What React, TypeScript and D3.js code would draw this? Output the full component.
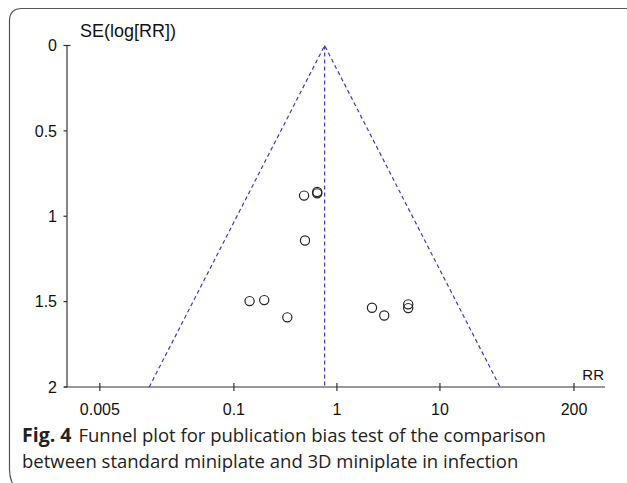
import React from "react";
import * as d3 from "d3";

const studyRR = [0.48, 0.644, 0.644, 0.49, 0.142, 0.197, 0.33, 2.19, 2.88, 4.92, 4.92];
const studySE = [0.879, 0.858, 0.866, 1.142, 1.497, 1.491, 1.592, 1.536, 1.581, 1.516, 1.538];
const pooledRR = 0.76;
const xTicks = [0.005, 0.1, 1, 10, 200];
const xTickLabels = ["0.005", "0.1", "1", "10", "200"];
const yTicks = [0, 0.5, 1, 1.5, 2];
const yTickLabels = ["0", "0.5", "1", "1.5", "2"];
const xDomain = [0.0024, 400];
const yDomain = [0, 2];

export default function App() {
  const W = 627, H = 483;
  const x = d3.scaleLog().domain(xDomain).range([67, 605]);
  const y = d3.scaleLinear().domain(yDomain).range([45.5, 387]);
  const z = 1.96;
  const maxSE = yDomain[1];
  const blue = "#3a3acb";
  const axisCol = "#333";
  const left = pooledRR * Math.exp(-z * maxSE);
  const right = pooledRR * Math.exp(z * maxSE);
  const funnel = d3.line<[number, number]>().x(d => x(d[0])).y(d => y(d[1]));
  const font = "'Liberation Sans', Arial, sans-serif";
  const capFont = "'Open Sans', 'Noto Sans', sans-serif";
  return (
    <svg width={W} height={H} style={{ position: "absolute", left: 0, top: 0, background: "#fff" }}>
      <path d="M 627 8.5 H 22 Q 9.5 8.5 9.5 21 V 470 Q 9.5 478 13.5 486" fill="none" stroke="#555" strokeWidth={1.2} />
      {/* axes */}
      <line x1={x(xDomain[0])} x2={x(xDomain[0])} y1={y(0)} y2={y(2)} stroke={axisCol} strokeWidth={1.2} />
      <line x1={x(xDomain[0]) - 3} x2={x(xDomain[1])} y1={y(2)} y2={y(2)} stroke={axisCol} strokeWidth={1.2} />
      {yTicks.map((t, i) => (
        <g key={"y" + i}>
          <line x1={x(xDomain[0]) - 3.5} x2={t === 0 ? x(xDomain[0]) + 3.5 : x(xDomain[0])} y1={y(t)} y2={y(t)} stroke={axisCol} strokeWidth={1.2} />
          <text x={57} y={y(t)} dy="0.36em" textAnchor="end" fontFamily={font} fontSize={16} fill="#111">{yTickLabels[i]}</text>
        </g>
      ))}
      {xTicks.map((t, i) => (
        <g key={"x" + i}>
          <line x1={x(t)} x2={x(t)} y1={y(2) - 4} y2={y(2) + 4} stroke={axisCol} strokeWidth={1.2} />
          <text x={x(t)} y={415} textAnchor="middle" fontFamily={font} fontSize={16} fill="#111">{xTickLabels[i]}</text>
        </g>
      ))}
      <text x={80} y={37} fontFamily={font} fontSize={18} fill="#111">SE(log[RR])</text>
      <text x={604} y={380} textAnchor="end" fontFamily={font} fontSize={15} fill="#111">RR</text>
      {/* funnel */}
      <path d={funnel([[left, maxSE], [pooledRR, 0], [right, maxSE]]) || ""} fill="none" stroke={blue} strokeWidth={1.2} strokeDasharray="4,3" />
      <line x1={x(pooledRR)} x2={x(pooledRR)} y1={y(0)} y2={y(maxSE)} stroke={blue} strokeWidth={1.2} strokeDasharray="4,3" />
      {studyRR.map((r, i) => (
        <circle key={"p" + i} cx={x(r)} cy={y(studySE[i])} r={4.6} fill="none" stroke="#222" strokeWidth={1.2} />
      ))}
      {/* caption */}
      <text x={22} y={442} fontFamily={capFont} fontSize={18.5} fill="#222">
        <tspan fontWeight="bold" fontSize={19.5}>Fig. 4</tspan>
        <tspan dx={7}>Funnel plot for publication bias test of the comparison</tspan>
      </text>
      <text x={22} y={468} fontFamily={capFont} fontSize={18.5} fill="#222">between standard miniplate and 3D miniplate in infection</text>
    </svg>
  );
}
